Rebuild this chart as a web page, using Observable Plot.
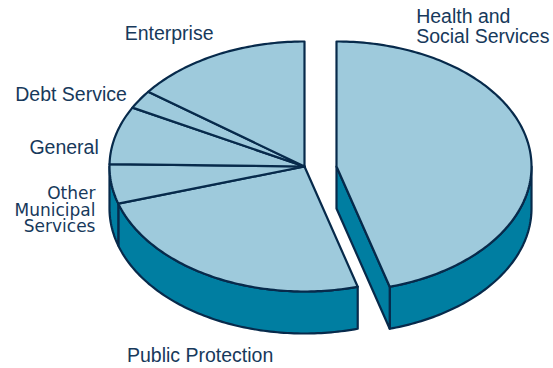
<!DOCTYPE html>
<html><head><meta charset="utf-8">
<script src="https://cdn.jsdelivr.net/npm/d3@7"></script>
<script src="https://cdn.jsdelivr.net/npm/@observablehq/plot@0.6"></script>
<style>html,body{margin:0;padding:0;background:#fff;}</style>
</head><body><div id="chart"></div>
<script>
// ---- data (clockwise from 12 o'clock) ----
const categories = ["Health and Social Services", "Public Protection", "Other Municipal Services", "General", "Debt Service", "Enterprise"];
const shares = [45.6, 24.6, 5.1, 7.5, 2.4, 14.8];
const labels = ["Health and\nSocial Services", "Public Protection", "Other\nMunicipal\nServices", "General", "Debt Service", "Enterprise"];
const explodedCategories = ["Health and Social Services"];

// ---- geometry / style ----
const W = 553, H = 368, CX = 304, CY = 166, RX = 195, RY = 125;
const DEPTH = 42 / RY, EXPLODE = 32 / RX;
const TOP = "#9ecadc", SIDE = "#007ea1", EDGE = "#072a4b", INK = "#17395b";

const arcs = d3.pie().sort(null).value(d => d.v)(categories.map((c, i) => ({c, v: shares[i], label: labels[i]})));
const isEx = c => explodedCategories.includes(c);

const tops = [], walls = [], labelData = [];
const deg = Math.PI / 180;
function sample(t0, t1) {
  const n = Math.max(2, Math.ceil(Math.abs(t1 - t0) / deg));
  return d3.range(n + 1).map(k => t0 + (t1 - t0) * k / n);
}
arcs.forEach((a, i) => {
  const ox = isEx(a.data.c) ? EXPLODE : 0;
  const P = (t, dz = 0) => ({x: ox + Math.sin(t), y: Math.cos(t) - dz});
  const C = (dz = 0) => ({x: ox, y: -dz});
  const s = a.startAngle, e = a.endAngle;
  // top face
  const tp = [C(), ...sample(s, e).map(t => P(t)), C()];
  tp.forEach(p => tops.push({...p, id: "t" + i}));
  // outer wall (front half only)
  const w0 = Math.max(s, Math.PI / 2), w1 = Math.min(e, 3 * Math.PI / 2);
  if (w1 > w0) {
    const ts = sample(w0, w1);
    const wp = [...ts.map(t => P(t)), ...ts.slice().reverse().map(t => P(t, DEPTH))];
    wp.push(wp[0]);
    wp.forEach(p => walls.push({...p, id: "o" + i}));
  }
  // radial walls next to gaps
  const prev = arcs[(i + arcs.length - 1) % arcs.length], next = arcs[(i + 1) % arcs.length];
  const gapStart = isEx(a.data.c) !== isEx(prev.data.c) || isEx(a.data.c);
  const gapEnd = isEx(a.data.c) !== isEx(next.data.c) || isEx(a.data.c);
  if (gapStart && Math.sin(s) < -1e-6) {
    [C(), P(s), P(s, DEPTH), C(DEPTH), C()].forEach(p => walls.push({...p, id: "rs" + i}));
  }
  if (gapEnd && Math.sin(e) > 1e-6) {
    [C(), P(e), P(e, DEPTH), C(DEPTH), C()].forEach(p => walls.push({...p, id: "re" + i}));
  }
  const m = (s + e) / 2;
  labelData.push({c: a.data.c, label: a.data.label, ...P(m)});
});

const lab = c => labelData.filter(d => d.c === c);
const font = {fontFamily: "'Liberation Sans', Arial, Helvetica, sans-serif", fill: INK, lineAnchor: "bottom"};

const chart = Plot.plot({
  width: W, height: H,
  margin: 0,
  x: {domain: [-CX / RX, (W - CX) / RX], axis: null},
  y: {domain: [(CY - H) / RY, CY / RY], axis: null},
  marks: [
    Plot.line(walls, {x: "x", y: "y", z: "id", fill: SIDE, stroke: EDGE, strokeWidth: 2.2, strokeLinejoin: "round", curve: "linear"}),
    Plot.line(tops, {x: "x", y: "y", z: "id", fill: TOP, stroke: EDGE, strokeWidth: 2.2, strokeLinejoin: "round", curve: "linear"}),
    Plot.text(lab("Enterprise"), {x: "x", y: "y", text: "label", ...font, fontSize: 19.5, textAnchor: "middle", dx: -48, dy: -15}),
    Plot.text(lab("Debt Service"), {x: "x", y: "y", text: "label", ...font, fontSize: 19.5, textAnchor: "end", dx: -13, dy: 1}),
    Plot.text(lab("General"), {x: "x", y: "y", text: "label", ...font, fontSize: 19.5, textAnchor: "end", dx: -17, dy: 19}),
    Plot.text(lab("Other Municipal Services"), {x: "x", y: "y", text: "label", ...font, fontFamily: "'DejaVu Sans', sans-serif", fontSize: 17, lineHeight: 0.965, textAnchor: "end", dx: -16, dy: 48}),
    Plot.text(lab("Public Protection"), {x: "x", y: "y", text: "label", ...font, fontSize: 19.5, textAnchor: "middle", dx: -11.5, dy: 86}),
    Plot.text(lab("Health and Social Services"), {x: "x", y: "y", text: "label", ...font, fontSize: 19.5, lineHeight: 1.03, textAnchor: "start", dx: -113.5, dy: -106.5})
  ]
});
document.getElementById("chart").appendChild(chart);
</script>
</body></html>
